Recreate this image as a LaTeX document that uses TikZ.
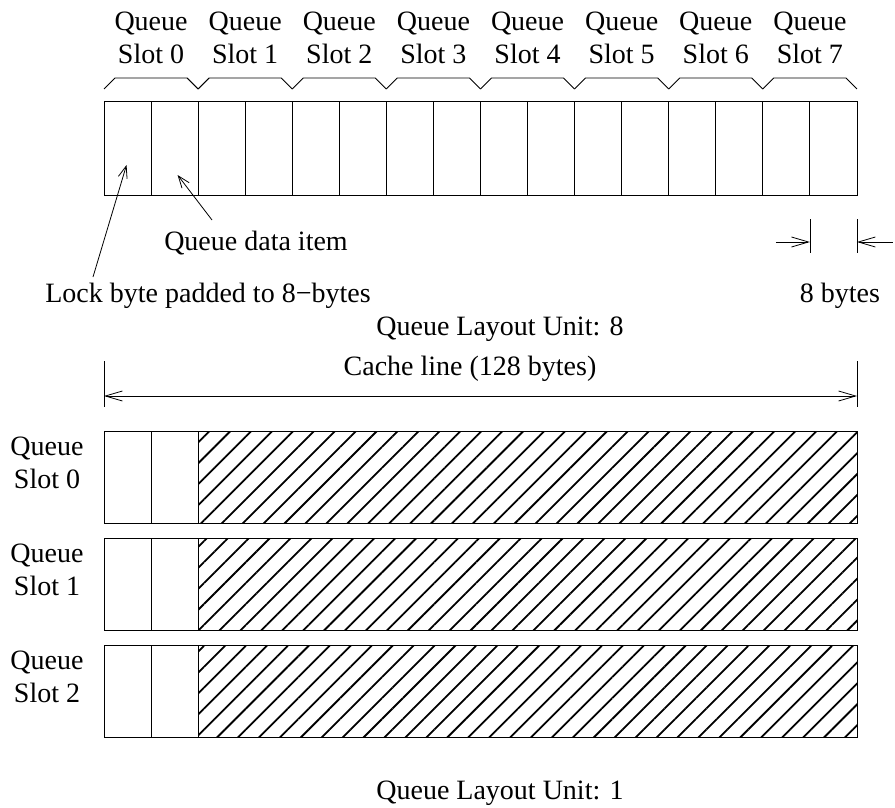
\documentclass[tikz,border=0pt]{standalone}
\usepackage{fontspec}
\setmainfont{Liberation Serif}
\usetikzlibrary{arrows.meta,positioning,patterns.meta}
\tikzset{
  cell/.style={draw,line width=0.9pt,minimum width=47.06pt,minimum height=94pt,
               inner sep=0pt,outer sep=0pt},
  rowcell/.style={draw,line width=0.9pt,minimum height=92pt,inner sep=0pt,outer sep=0pt},
  padcell/.style={rowcell,pattern={Lines[angle=45,distance=14.8pt,line width=1.8pt]}},
  slotbrace/.style={line width=0.9pt},
  slotlabel/.style={align=center,inner sep=0pt},
  lbl/.style={inner sep=0pt},
  ptr/.style={-{Straight Barb[length=12pt,width=9pt]},line width=0.8pt},
  dimarr/.style={-{Straight Barb[length=17pt,width=10pt]},line width=0.8pt},
  dimtick/.style={line width=0.8pt}
}
\begin{document}
\begin{tikzpicture}[x=1pt,y=-1pt,font=\fontsize{28}{33}\selectfont]
  \useasboundingbox (0,0) rectangle (895,808);
  % top row: eight slots of two cells each
  \foreach \i in {0,...,15}
    \node[cell] (c\i) at ({104+47.06*(\i+0.5)},148) {};
  \foreach \k in {0,...,7}{
    \pgfmathtruncatemacro{\a}{2*\k}
    \pgfmathtruncatemacro{\b}{2*\k+1}
    \draw[slotbrace] ([yshift=12pt]c\a.north west) -- ([xshift=11pt,yshift=23pt]c\a.north west)
      -- ([xshift=-11pt,yshift=23pt]c\b.north east) -- ([yshift=12pt]c\b.north east);
    \node[slotlabel] (s\k) at ({104+94.12*\k+47.06},38) {Queue\\Slot \k};
  }
  % pointers into slot 0
  \node[lbl] (datal) at (256,243) {Queue data item};
  \node[lbl] (lockl) at (208,296) {Lock byte padded to 8−bytes};
  \coordinate (locktail) at (93,277);
  \coordinate (datatail) at (212,220);
  \draw[ptr] (locktail) -- ([xshift=-1pt,yshift=-17pt]c0.center);
  \draw[ptr] (datatail) -- ([xshift=3pt,yshift=-27pt]c1.center);
  % 8 bytes dimension
  \coordinate (tl) at (c15.south west |- 0,219);
  \coordinate (tr) at (c15.south east |- 0,219);
  \draw[dimtick] (tl) -- ++(0,34);
  \draw[dimtick] (tr) -- ++(0,34);
  \coordinate (al) at ([yshift=-23pt]tl);
  \coordinate (ar) at ([yshift=-23pt]tr);
  \draw[dimarr] ([xshift=-34pt]al) -- (al);
  \draw[dimarr] ([xshift=36pt]ar) -- (ar);
  \node[lbl] (bytesl) at (840,296) {8 bytes};
  \node[lbl] (unit8) at (500,329) {Queue Layout Unit: 8};
  % cache line dimension
  \coordinate (cl) at (104,361);
  \coordinate (cr) at (857,361);
  \draw[dimtick] (cl) -- ++(0,46);
  \draw[dimtick] (cr) -- ++(0,46);
  \draw[dimarr,{Straight Barb[length=17pt,width=10pt]}-{Straight Barb[length=17pt,width=10pt]}]
    ([yshift=-35pt]cl) -- ([yshift=-35pt]cr);
  \node[lbl] (cachel) at (470,369) {Cache line (128 bytes)};
  % one slot per cache line
  \foreach \k in {0,1,2}{
    \node[rowcell,minimum width=47.06pt] (lk\k) at (127.53,{477+107*\k}) {};
    \node[rowcell,minimum width=47.06pt,right=0pt of lk\k] (dt\k) {};
    \node[padcell,minimum width=659pt,right=0pt of dt\k] (pd\k) {};
    \node[slotlabel] (r\k) at (47,{463+107*\k}) {Queue\\Slot \k};
  }
  \node[lbl] (unit1) at (500,793) {Queue Layout Unit: 1};
\end{tikzpicture}
\end{document}
